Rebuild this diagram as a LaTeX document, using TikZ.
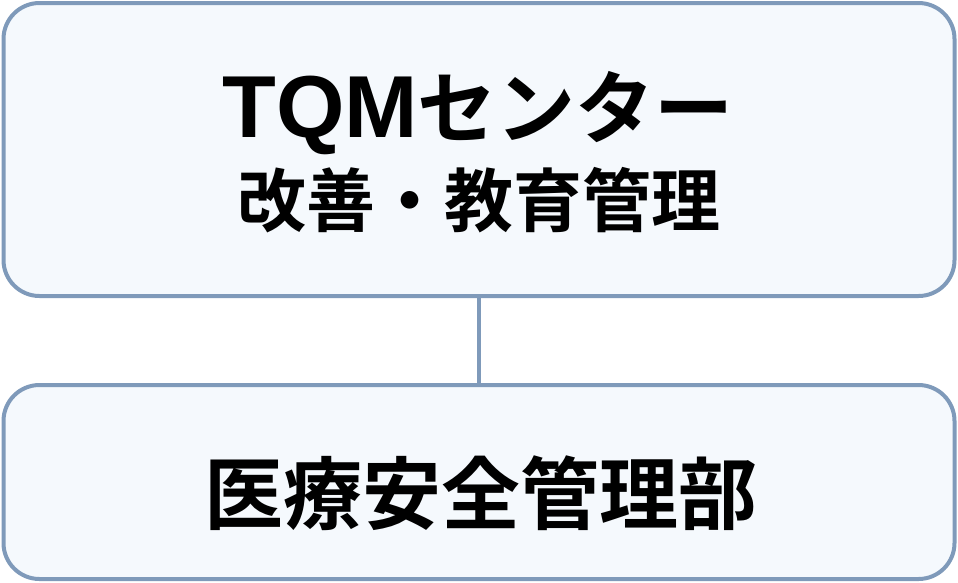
\documentclass[tikz,border=0pt]{standalone}
\usepackage{fontspec}
\newfontfamily\cjkbf{Noto Sans CJK JP Bold}
\newfontfamily\latbf{Liberation Sans Bold}
\definecolor{boxline}{HTML}{7F9ABA}
\definecolor{boxfill}{HTML}{F5F9FD}
\usetikzlibrary{positioning}

\begin{document}
\begin{tikzpicture}[x=1pt, y=-1pt,
    unitbox/.style={draw=boxline, fill=boxfill, line width=4pt, rounded corners=36pt,
        rectangle, minimum width=951pt, inner sep=0pt},
    title/.style={anchor=base, inner sep=0pt, font=\cjkbf}]
    \useasboundingbox (0,0) rectangle (958,582);

    %Boxes
    \node[unitbox, minimum height=293pt] (tqm) at (479,149.5) {};
    \node[unitbox, minimum height=194pt] (anzen) at (479,482) {};

    %Texts
    \node[title, font=\fontsize{88}{88}\selectfont] (tqmname) at (478,137)
        {{\latbf TQM}{\cjkbf\fontsize{79}{79}\selectfont センター}};
    \node[title, font=\cjkbf\fontsize{69}{69}\selectfont] (tqmrole) at (479,226) {改善・教育管理};
    \node[title, font=\cjkbf\fontsize{79}{79}\selectfont] (anzenname) at (481,523) {医療安全管理部};

    %Lines
    \draw[boxline, line width=4pt] (tqm.south) -- (anzen.north);
\end{tikzpicture}
\end{document}
